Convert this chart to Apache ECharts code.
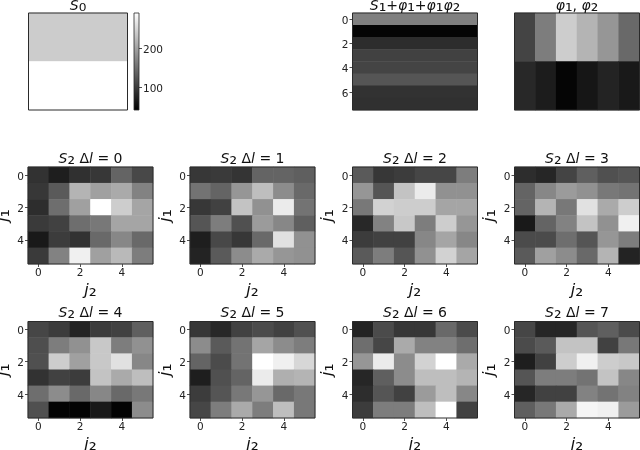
<!DOCTYPE html>
<html><head><meta charset="utf-8">
<style>html,body{margin:0;padding:0;background:#fff}#c{width:640px;height:450px}</style>
<script src="https://cdn.jsdelivr.net/npm/echarts@6/dist/echarts.min.js"></script>
</head><body><div id="c"></div>
<script>
const s0 = [[204],[255]];
const s1 = [[128],[5],[45],[65],[68],[85],[50],[48]];
const phi = [[68,125,205,180,150,105],[40,28,5,22,35,25]];
const s2l0 = [[50,30,48,55,100,72],[55,90,180,160,170,130],[45,110,160,255,205,165],[58,65,110,120,165,165],[25,60,50,105,135,105],[58,130,240,160,185,125]];
const s2l1 = [[55,58,52,100,100,95],[115,100,150,190,140,105],[55,65,195,145,235,115],[85,125,80,155,135,95],[30,72,55,105,225,145],[35,90,140,170,150,145]];
const s2l2 = [[90,55,60,70,70,125],[150,85,195,235,145,145],[120,210,205,205,165,165],[40,130,200,125,205,150],[60,65,65,135,165,135],[90,125,85,145,210,165]];
const s2l3 = [[45,38,68,95,80,85],[100,135,155,145,120,115],[100,180,120,225,170,205],[25,100,130,195,145,240],[75,75,110,85,150,125],[90,160,140,105,180,35]];
const s2l4 = [[70,60,35,60,65,95],[78,125,145,200,125,145],[80,205,160,200,225,135],[50,65,60,195,170,190],[110,140,105,135,105,120],[80,3,3,25,3,140]];
const s2l5 = [[55,40,65,75,65,80],[140,90,115,165,140,125],[100,75,115,255,240,215],[30,80,100,235,175,180],[60,85,120,150,105,120],[70,125,170,125,190,120]];
const s2l6 = [[35,75,55,55,105,75],[110,70,170,130,130,110],[150,235,140,210,255,170],[38,95,140,190,190,180],[45,85,65,155,190,135],[60,125,125,190,255,65]];
const s2l7 = [[70,38,38,85,95,75],[75,90,195,195,65,120],[30,65,205,240,205,200],[85,125,125,115,195,135],[38,65,65,130,115,130],[95,120,170,245,240,155]];
const s2All = [s2l0,s2l1,s2l2,s2l3,s2l4,s2l5,s2l6,s2l7];
const colorbarMin = 41, colorbarMax = 290, colorbarTicks = [100,200];

const FONT = '"DejaVu Sans"';
const BORDER = '#2a2a2a';
const rich = {
  t:{fontFamily:FONT,fontSize:14,color:'#111'},
  i:{fontFamily:FONT,fontStyle:'italic',fontSize:14,color:'#111'},
  s:{fontFamily:FONT,fontSize:19,color:'#111',lineHeight:16},
  ai:{fontFamily:FONT,fontStyle:'italic',fontSize:16,color:'#111'},
  as:{fontFamily:FONT,fontSize:20,color:'#111',lineHeight:16}
};
const tickRich = {a:{fontFamily:FONT,fontSize:10.5,color:'#222',padding:[4,0,0,0]}};
const grids=[],xAxes=[],yAxes=[],series=[],titles=[],heatIdx=[];

function range(n){return Array.from({length:n},(_,i)=>String(i));}
function panel(m,box,opt){
  const idx=grids.length, nr=m.length, nc=m[0].length;
  grids.push({left:box[0],top:box[1],width:box[2],height:box[3],show:true,z:5,outerBoundsMode:'none',
    borderColor:BORDER,borderWidth:1,backgroundColor:'transparent',containLabel:false});
  xAxes.push({type:'category',gridIndex:idx,data:range(nc),
    axisLine:{show:false},splitLine:{show:false},splitArea:{show:false},
    axisTick:{show:!!opt.xt,alignWithLabel:true,interval:1,length:3,lineStyle:{color:'#222',width:0.8}},
    axisLabel:{show:!!opt.xt,interval:1,fontFamily:FONT,fontSize:10.5,color:'#222',margin:4},
    name:opt.xn?'{ai|j}{as|₂}':'',nameLocation:'middle',nameGap:19,
    nameTextStyle:{fontFamily:FONT,fontSize:16,color:'#111',rich}});
  yAxes.push({type:'category',gridIndex:idx,inverse:true,data:range(nr),
    axisLine:{show:false},splitLine:{show:false},splitArea:{show:false},
    axisTick:{show:!!opt.yt,alignWithLabel:true,interval:1,length:3,lineStyle:{color:'#222',width:0.8}},
    axisLabel:{show:!!opt.yt,interval:1,margin:4,formatter:'{a|{value}}',rich:tickRich},
    name:opt.yn?'{ai|j}{as|₁}':'',nameLocation:'middle',nameGap:3,nameRotate:90,
    nameTextStyle:{fontFamily:FONT,fontSize:16,color:'#111',rich}});
  const data=[];
  m.forEach((row,r)=>row.forEach((v,c)=>data.push([c,r,v])));
  heatIdx.push(series.length);
  series.push({type:'heatmap',xAxisIndex:idx,yAxisIndex:idx,data,progressive:0,animation:false,
    emphasis:{disabled:true}});
  titles.push({text:opt.title,left:box[0]+box[2]/2,top:box[1]-(opt.tdy||16),textAlign:'center',
    padding:0,itemGap:0,
    textStyle:{fontFamily:FONT,fontSize:14,fontWeight:'normal',color:'#111',rich}});
}

const W=125,H=97;
panel(s0,[28.5,13,99,H],{title:'{i|S}{s|₀}',tdy:15});
panel(s1,[352.5,13,W,H],{title:'{i|S}{s|₁}{t|+}{i|φ}{s|₁}{t|+}{i|φ}{s|₁}{i|φ}{s|₂}',yt:true,tdy:15});
panel(phi,[514.5,13,W,H],{title:'{i|φ}{s|₁}{t|, }{i|φ}{s|₂}',tdy:15});

const cols=[28,190,352.5,514.5];
const rowsY=[167,321.5];
s2All.forEach((m,i)=>{
  const r=Math.floor(i/4),c=i%4;
  panel(m,[cols[c],rowsY[r],W,r===1?96.5:H],{title:'{i|S}{s|₂}{t| Δ}{i|l}{t| = '+i+'}',xt:true,yt:true,xn:true,yn:true});
});

const cb=grids.length;
grids.push({left:134,top:13,width:5,height:H,show:true,z:5,outerBoundsMode:'none',borderColor:BORDER,borderWidth:0.8,backgroundColor:'transparent'});
xAxes.push({type:'category',gridIndex:cb,data:[''],axisLine:{show:false},axisTick:{show:false},axisLabel:{show:false}});
yAxes.push({type:'value',gridIndex:cb,position:'right',min:colorbarMin,max:colorbarMax,
  splitLine:{show:false},axisLine:{show:false},
  axisTick:{show:true,customValues:colorbarTicks,length:3,lineStyle:{color:'#222',width:0.8}},
  axisLabel:{show:true,customValues:colorbarTicks,margin:4,formatter:'{a|{value}}',rich:tickRich}});
series.push({type:'bar',xAxisIndex:cb,yAxisIndex:cb,data:[colorbarMax],barWidth:'100%',animation:false,silent:true,
  itemStyle:{color:{type:'linear',x:0,y:1,x2:0,y2:0,colorStops:[{offset:0,color:'#000'},{offset:1,color:'#fff'}]}}});

const chart=echarts.init(document.getElementById('c'),null,{renderer:'canvas'});
chart.setOption({animation:false,backgroundColor:'#fff',title:titles,grid:grids,xAxis:xAxes,yAxis:yAxes,series,
  tooltip:{show:false},
  visualMap:{show:false,type:'continuous',min:0,max:255,dimension:2,seriesIndex:heatIdx,inRange:{color:['#000000','#ffffff']}}});
</script></body></html>
